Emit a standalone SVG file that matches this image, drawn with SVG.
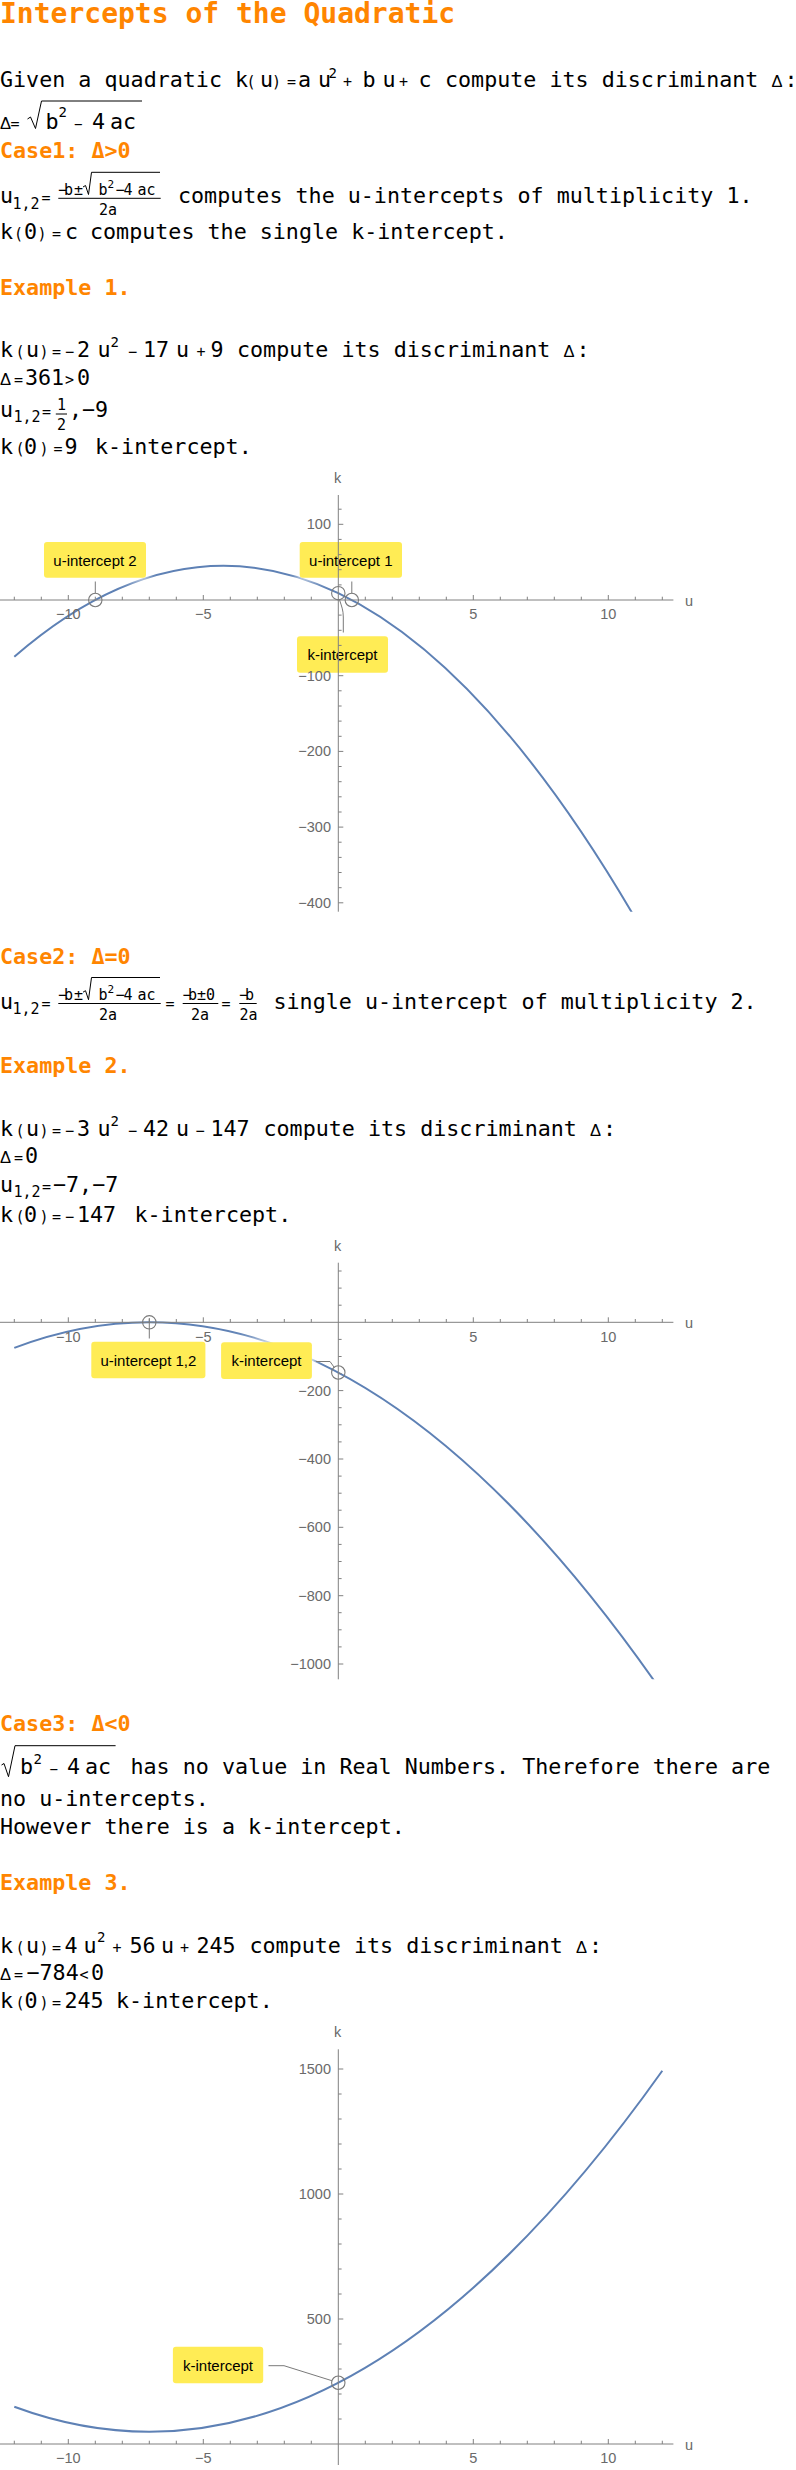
<svg xmlns="http://www.w3.org/2000/svg" width="796" height="2470" viewBox="0 0 796 2470">
<style>
.t{font-family:"DejaVu Sans Mono",monospace;font-size:21.7px;fill:#000}
.s{font-size:15px}
.ss{font-size:14px}
.sx{font-size:11px}
.d{font-family:"Liberation Sans",Arial,sans-serif;font-size:16.5px}
.h{font-family:"DejaVu Sans Mono",monospace;font-size:21.7px;font-weight:bold;fill:#ff8500}
.title{font-size:28px}
.ln{stroke:#000;stroke-width:1;fill:none}
.ax{stroke:#808080;stroke-width:1;fill:none}
.tl{font-family:"Liberation Sans",Arial,sans-serif;font-size:14.5px;fill:#6a6a6a}
.tx{text-anchor:middle}
.ty{text-anchor:end}
.crv{fill:none;stroke:#5e81b5;stroke-width:2}
.box{fill:#ffec55}
.lbt{font-family:"Liberation Sans",Arial,sans-serif;font-size:15px;fill:#000;text-anchor:middle}
.mk{fill:none;stroke:#7a7a7a;stroke-width:1.1}
.ld{fill:none;stroke:#7a7a7a;stroke-width:1}
.halo{fill:#fff;filter:url(#blur)}
</style>
<defs>
<filter id="blur" x="-30%" y="-60%" width="160%" height="220%"><feGaussianBlur stdDeviation="4"/></filter>
<clipPath id="c1"><rect x="0" y="495" width="796" height="416.7"/></clipPath>
<clipPath id="c2"><rect x="0" y="1262.7" width="796" height="416.6"/></clipPath>
</defs>
<rect width="796" height="2470" fill="#fff"/>

<g id="title"><text class="h title" x="0" y="22.7">Intercepts of the Quadratic</text></g>

<g id="intro">
<text class="t" y="87"><tspan x="0">Given a quadratic k</tspan><tspan class="s" x="246.5">(</tspan><tspan x="260">u</tspan><tspan class="s" x="272">)</tspan><tspan class="s" x="287">=</tspan><tspan x="298">a</tspan><tspan x="318">u</tspan><tspan class="ss" x="328.5" y="78">2</tspan><tspan class="s" x="343" y="87">+</tspan><tspan x="362.5">b</tspan><tspan x="382.5">u</tspan><tspan class="s" x="399">+</tspan><tspan x="418.5">c</tspan><tspan x="445">compute its discriminant</tspan><tspan class="d" x="771.5">Δ</tspan><tspan x="784.6">:</tspan></text>
<text class="t" y="129"><tspan class="d" x="0">Δ</tspan><tspan class="s" x="10.5">=</tspan><tspan x="45.5">b</tspan><tspan class="ss" x="58.5" y="116.5">2</tspan><tspan class="ss" x="74" y="129">−</tspan><tspan x="92">4</tspan><tspan x="110">ac</tspan></text>
<path class="ln" d="M27.5,119 L30.5,117 L35.5,128.5 L41.5,101 H142"/>
</g>

<g id="case1">
<text class="h" x="0" y="158">Case1: Δ&gt;0</text>
<text class="t" y="203.3"><tspan x="0">u</tspan><tspan class="s" x="12.5" y="208.5">1,2</tspan><tspan class="s" x="41.5" y="203.3">=</tspan></text>
<text class="t s" y="195"><tspan x="58">−</tspan><tspan x="64">b</tspan><tspan x="74">±</tspan><tspan x="98.5">b</tspan><tspan class="sx" x="107.5" y="188">2</tspan><tspan x="115.5" y="195">−</tspan><tspan x="123.5">4</tspan><tspan x="137.5">ac</tspan></text>
<path class="ln" d="M83,187 L85.5,185.5 L88.5,194.5 L91.5,172.3 H160"/>
<path class="ln" d="M58.3,198.3 H160.7"/>
<text class="t s" x="99" y="215">2a</text>
<text class="t" x="178" y="203.3">computes the u-intercepts of multiplicity 1.</text>
<text class="t" y="239.3"><tspan x="0">k</tspan><tspan class="s" x="14">(</tspan><tspan x="24">0</tspan><tspan class="s" x="37.5">)</tspan><tspan class="s" x="52">=</tspan><tspan x="65">c</tspan><tspan x="90">computes the single k-intercept.</tspan></text>
</g>

<g id="example1">
<text class="h" x="0" y="295">Example 1.</text>
<text class="t" y="357.3"><tspan x="0">k</tspan><tspan class="s" x="15.5">(</tspan><tspan x="26">u</tspan><tspan class="s" x="39.5">)</tspan><tspan class="s" x="52">=</tspan><tspan class="s" x="65">−</tspan><tspan x="77">2</tspan><tspan x="97.5">u</tspan><tspan class="ss" x="110.5" y="347.3">2</tspan><tspan class="s" x="128" y="357.3">−</tspan><tspan x="143">17</tspan><tspan x="176">u</tspan><tspan class="s" x="196.5">+</tspan><tspan x="210.5">9</tspan><tspan x="237">compute its discriminant</tspan><tspan class="d" x="563.5">Δ</tspan><tspan x="576.6">:</tspan></text>
<text class="t" y="385"><tspan class="d" x="0">Δ</tspan><tspan class="s" x="14">=</tspan><tspan x="25">361</tspan><tspan class="s" x="65">&gt;</tspan><tspan x="77">0</tspan></text>
<text class="t" y="416.7"><tspan x="0">u</tspan><tspan class="s" x="13.5" y="421.7">1,2</tspan><tspan class="s" x="42" y="416.7">=</tspan><tspan x="69">,</tspan><tspan x="82">−9</tspan></text>
<text class="t s" x="57" y="410">1</text>
<path class="ln" d="M55.8,414 H67"/>
<text class="t s" x="57" y="430">2</text>
<text class="t" y="454"><tspan x="0">k</tspan><tspan class="s" x="15.5">(</tspan><tspan x="24">0</tspan><tspan class="s" x="39.5">)</tspan><tspan class="s" x="53.5">=</tspan><tspan x="64.5">9</tspan><tspan x="95">k-intercept.</tspan></text>
</g>

<g id="plot1">
<g clip-path="url(#c1)"><path class="crv" d="M14.3,656.85 Q338.3,374.9 662.3,966.1"/></g>
<rect class="halo" x="42" y="540" width="106" height="39.7" rx="3"/>
<rect class="halo" x="297.7" y="540" width="106.3" height="39.7" rx="3"/>
<rect class="halo" x="295" y="634.3" width="95" height="40.4" rx="3"/>
<g id="p1-lab-u2"><rect class="box" x="44" y="542" width="102" height="35.7" rx="3"/><text class="lbt" x="95" y="566">u-intercept 2</text></g>
<g id="p1-lab-u1"><rect class="box" x="299.7" y="542" width="102.3" height="35.7" rx="3"/><text class="lbt" x="350.8" y="566">u-intercept 1</text></g>
<g id="p1-lab-k"><rect class="box" x="297" y="636.3" width="91" height="36.4" rx="3"/><text class="lbt" x="342.5" y="660">k-intercept</text></g>
<path class="ax" d="M0,600H673.4M338.3,495V911.7"/>
<path class="ax" d="M68.3,600v-5M203.3,600v-5M473.3,600v-5M608.3,600v-5M338.3,524.3h5M338.3,675.7h5M338.3,751.4h5M338.3,827.1h5M338.3,902.8h5"/>
<path class="ax" d="M14.3,600v-3.3M41.3,600v-3.3M95.3,600v-3.3M122.3,600v-3.3M149.3,600v-3.3M176.3,600v-3.3M230.3,600v-3.3M257.3,600v-3.3M284.3,600v-3.3M311.3,600v-3.3M365.3,600v-3.3M392.3,600v-3.3M419.3,600v-3.3M446.3,600v-3.3M500.3,600v-3.3M527.3,600v-3.3M554.3,600v-3.3M581.3,600v-3.3M635.3,600v-3.3M662.3,600v-3.3M338.3,509.2h3.3M338.3,539.4h3.3M338.3,554.6h3.3M338.3,569.7h3.3M338.3,584.9h3.3M338.3,615.1h3.3M338.3,630.3h3.3M338.3,645.4h3.3M338.3,660.6h3.3M338.3,690.8h3.3M338.3,706h3.3M338.3,721.1h3.3M338.3,736.3h3.3M338.3,766.5h3.3M338.3,781.7h3.3M338.3,796.8h3.3M338.3,812h3.3M338.3,842.2h3.3M338.3,857.4h3.3M338.3,872.5h3.3M338.3,887.7h3.3"/>
<g class="tl">
<text class="tx" x="68.3" y="619.3">−10</text><text class="tx" x="203.3" y="619.3">−5</text><text class="tx" x="473.3" y="619.3">5</text><text class="tx" x="608.3" y="619.3">10</text>
<text class="ty" x="331" y="529.3">100</text><text class="ty" x="331" y="680.7">−100</text><text class="ty" x="331" y="756.4">−200</text><text class="ty" x="331" y="832.1">−300</text><text class="ty" x="331" y="907.8">−400</text>
<text class="tx" x="337.5" y="483.3">k</text><text x="685" y="605.5">u</text>
</g>
<g id="p1-markers">
<circle class="mk" cx="95.3" cy="600" r="6.7"/><circle class="mk" cx="351.8" cy="600" r="6.7"/><circle class="mk" cx="338.3" cy="593.2" r="6.7"/>
<path class="ld" d="M95.3,581.5V593.3M351.8,581.5V593.3M339.5,599.8C341.5,606 343.3,610 343.3,617V632.5"/>
</g>
</g>

<g id="case2">
<text class="h" x="0" y="964">Case2: Δ=0</text>
<text class="t" y="1008.5"><tspan x="0">u</tspan><tspan class="s" x="12.5" y="1013.5">1,2</tspan><tspan class="s" x="41.5" y="1008.5">=</tspan><tspan class="s" x="165.5">=</tspan><tspan class="s" x="221.5">=</tspan></text>
<text class="t s" y="1000.2"><tspan x="58">−</tspan><tspan x="64">b</tspan><tspan x="74">±</tspan><tspan x="98.5">b</tspan><tspan class="sx" x="107.5" y="993.2">2</tspan><tspan x="115.5" y="1000.2">−</tspan><tspan x="123.5">4</tspan><tspan x="137.5">ac</tspan><tspan x="182.5">−</tspan><tspan x="188">b±0</tspan><tspan x="239">−</tspan><tspan x="245">b</tspan></text>
<path class="ln" d="M83,992.2 L85.5,990.7 L88.5,999.7 L91.5,977.5 H160"/>
<path class="ln" d="M58.3,1003.5H160.7M182.7,1003.5H218.3M239.3,1003.5H256.7"/>
<text class="t s" y="1020.2"><tspan x="99">2a</tspan><tspan x="191">2a</tspan><tspan x="239.5">2a</tspan></text>
<text class="t" x="273.5" y="1008.5">single u-intercept of multiplicity 2.</text>
</g>

<g id="example2">
<text class="h" x="0" y="1073.3">Example 2.</text>
<text class="t" y="1136"><tspan x="0">k</tspan><tspan class="s" x="15.5">(</tspan><tspan x="26">u</tspan><tspan class="s" x="39.5">)</tspan><tspan class="s" x="52">=</tspan><tspan class="s" x="65">−</tspan><tspan x="77">3</tspan><tspan x="97.5">u</tspan><tspan class="ss" x="110.5" y="1126">2</tspan><tspan class="s" x="128" y="1136">−</tspan><tspan x="143">42</tspan><tspan x="176">u</tspan><tspan class="s" x="195.5">−</tspan><tspan x="210.5">147</tspan><tspan x="263.5">compute its discriminant</tspan><tspan class="d" x="590">Δ</tspan><tspan x="603.1">:</tspan></text>
<text class="t" y="1163.3"><tspan class="d" x="0">Δ</tspan><tspan class="s" x="14">=</tspan><tspan x="25">0</tspan></text>
<text class="t" y="1191.7"><tspan x="0">u</tspan><tspan class="s" x="13.5" y="1196.7">1,2</tspan><tspan class="s" x="42" y="1191.7">=</tspan><tspan x="53">−7,−7</tspan></text>
<text class="t" y="1221.7"><tspan x="0">k</tspan><tspan class="s" x="15.5">(</tspan><tspan x="24">0</tspan><tspan class="s" x="39.5">)</tspan><tspan class="s" x="52">=</tspan><tspan class="s" x="65">−</tspan><tspan x="77">147</tspan><tspan x="134.5">k-intercept.</tspan></text>
</g>

<g id="plot2">
<g clip-path="url(#c2)"><path class="crv" d="M14.3,1347.9 Q338.3,1224.9 662.3,1692.4"/></g>
<rect class="halo" x="89.3" y="1339.7" width="118.1" height="40.6" rx="3"/>
<rect class="halo" x="219.1" y="1340.3" width="94.8" height="40.7" rx="3"/>
<g id="p2-lab-u"><rect class="box" x="91.3" y="1341.7" width="114.1" height="36.6" rx="3"/><text class="lbt" x="148.4" y="1365.5">u-intercept 1,2</text></g>
<g id="p2-lab-k"><rect class="box" x="221.1" y="1342.3" width="90.8" height="36.7" rx="3"/><text class="lbt" x="266.5" y="1366">k-intercept</text></g>
<path class="ax" d="M0,1322.3H673.4M338.3,1262.7V1679.3"/>
<path class="ax" d="M68.3,1322.3v-5M203.3,1322.3v-5M473.3,1322.3v-5M608.3,1322.3v-5M338.3,1390.6h5M338.3,1459h5M338.3,1527.3h5M338.3,1595.7h5M338.3,1664h5"/>
<path class="ax" d="M14.3,1322.3v-3.3M41.3,1322.3v-3.3M95.3,1322.3v-3.3M122.3,1322.3v-3.3M149.3,1322.3v-3.3M176.3,1322.3v-3.3M230.3,1322.3v-3.3M257.3,1322.3v-3.3M284.3,1322.3v-3.3M311.3,1322.3v-3.3M365.3,1322.3v-3.3M392.3,1322.3v-3.3M419.3,1322.3v-3.3M446.3,1322.3v-3.3M500.3,1322.3v-3.3M527.3,1322.3v-3.3M554.3,1322.3v-3.3M581.3,1322.3v-3.3M635.3,1322.3v-3.3M662.3,1322.3v-3.3M338.3,1271h3.3M338.3,1288.1h3.3M338.3,1305.2h3.3M338.3,1339.4h3.3M338.3,1356.5h3.3M338.3,1373.6h3.3M338.3,1407.7h3.3M338.3,1424.8h3.3M338.3,1441.9h3.3M338.3,1476.1h3.3M338.3,1493.2h3.3M338.3,1510.2h3.3M338.3,1544.4h3.3M338.3,1561.5h3.3M338.3,1578.6h3.3M338.3,1612.7h3.3M338.3,1629.8h3.3M338.3,1646.9h3.3"/>
<g class="tl">
<text class="tx" x="68.3" y="1341.6">−10</text><text class="tx" x="203.3" y="1341.6">−5</text><text class="tx" x="473.3" y="1341.6">5</text><text class="tx" x="608.3" y="1341.6">10</text>
<text class="ty" x="331" y="1395.6">−200</text><text class="ty" x="331" y="1464">−400</text><text class="ty" x="331" y="1532.3">−600</text><text class="ty" x="331" y="1600.7">−800</text><text class="ty" x="331" y="1669">−1000</text>
<text class="tx" x="337.5" y="1251">k</text><text x="685" y="1327.8">u</text>
</g>
<g id="p2-markers">
<circle class="mk" cx="149.3" cy="1322.3" r="6.7"/><circle class="mk" cx="338.3" cy="1372.5" r="6.7"/>
<path class="ld" d="M149.3,1318V1338.5M316,1361.5H330L334.2,1367.3"/>
</g>
</g>

<g id="case3">
<text class="h" x="0" y="1730.7">Case3: Δ&lt;0</text>
<path class="ln" d="M1.5,1765 L4,1763.5 L8.5,1776.7 L15,1745.7 H115.6"/>
<text class="t" y="1774.3"><tspan x="20">b</tspan><tspan class="ss" x="33.5" y="1764.3">2</tspan><tspan class="ss" x="49.5" y="1774.3">−</tspan><tspan x="67">4</tspan><tspan x="85">ac</tspan><tspan x="130.5">has no value in Real Numbers. Therefore there are</tspan></text>
<text class="t" x="0" y="1806">no u-intercepts.</text>
<text class="t" x="0" y="1834">However there is a k-intercept.</text>
</g>

<g id="example3">
<text class="h" x="0" y="1890">Example 3.</text>
<text class="t" y="1952.7"><tspan x="0">k</tspan><tspan class="s" x="15.5">(</tspan><tspan x="26">u</tspan><tspan class="s" x="39.5">)</tspan><tspan class="s" x="52">=</tspan><tspan x="64.5">4</tspan><tspan x="83.5">u</tspan><tspan class="ss" x="97" y="1941.7">2</tspan><tspan class="s" x="112.5" y="1952.7">+</tspan><tspan x="129.5">56</tspan><tspan x="161">u</tspan><tspan class="s" x="180">+</tspan><tspan x="196.5">245</tspan><tspan x="249.5">compute its discriminant</tspan><tspan class="d" x="576">Δ</tspan><tspan x="589.1">:</tspan></text>
<text class="t" y="1980"><tspan class="d" x="0">Δ</tspan><tspan class="s" x="14">=</tspan><tspan x="26.5">−784</tspan><tspan class="s" x="79.5">&lt;</tspan><tspan x="91">0</tspan></text>
<text class="t" y="2008.3"><tspan x="0">k</tspan><tspan class="s" x="15.5">(</tspan><tspan x="24.5">0</tspan><tspan class="s" x="39.5">)</tspan><tspan class="s" x="52">=</tspan><tspan x="64.5">245</tspan><tspan x="116">k-intercept.</tspan></text>
</g>

<g id="plot3">
<path class="crv" d="M14.3,2406.75 Q338.3,2526.75 662.3,2070.75"/>
<rect class="halo" x="170.9" y="2344.7" width="94.3" height="40.6" rx="3"/>
<g id="p3-lab-k"><rect class="box" x="172.9" y="2346.7" width="90.3" height="36.6" rx="3"/><text class="lbt" x="218" y="2370.5">k-intercept</text></g>
<path class="ax" d="M0,2444H673.4M338.3,2049.3V2465"/>
<path class="ax" d="M68.3,2444v-5M203.3,2444v-5M473.3,2444v-5M608.3,2444v-5M338.3,2319h5M338.3,2194h5M338.3,2069h5"/>
<path class="ax" d="M14.3,2444v-3.3M41.3,2444v-3.3M95.3,2444v-3.3M122.3,2444v-3.3M149.3,2444v-3.3M176.3,2444v-3.3M230.3,2444v-3.3M257.3,2444v-3.3M284.3,2444v-3.3M311.3,2444v-3.3M365.3,2444v-3.3M392.3,2444v-3.3M419.3,2444v-3.3M446.3,2444v-3.3M500.3,2444v-3.3M527.3,2444v-3.3M554.3,2444v-3.3M581.3,2444v-3.3M635.3,2444v-3.3M662.3,2444v-3.3M338.3,2419h3.3M338.3,2394h3.3M338.3,2369h3.3M338.3,2344h3.3M338.3,2294h3.3M338.3,2269h3.3M338.3,2244h3.3M338.3,2219h3.3M338.3,2169h3.3M338.3,2144h3.3M338.3,2119h3.3M338.3,2094h3.3"/>
<g class="tl">
<text class="tx" x="68.3" y="2463.3">−10</text><text class="tx" x="203.3" y="2463.3">−5</text><text class="tx" x="473.3" y="2463.3">5</text><text class="tx" x="608.3" y="2463.3">10</text>
<text class="ty" x="331" y="2324">500</text><text class="ty" x="331" y="2199">1000</text><text class="ty" x="331" y="2074">1500</text>
<text class="tx" x="337.5" y="2037.3">k</text><text x="685" y="2449.5">u</text>
</g>
<g id="p3-markers">
<circle class="mk" cx="338.3" cy="2382.75" r="6.7"/>
<path class="ld" d="M268.5,2365.7H284L331.9,2380.7"/>
</g>
</g>
</svg>
